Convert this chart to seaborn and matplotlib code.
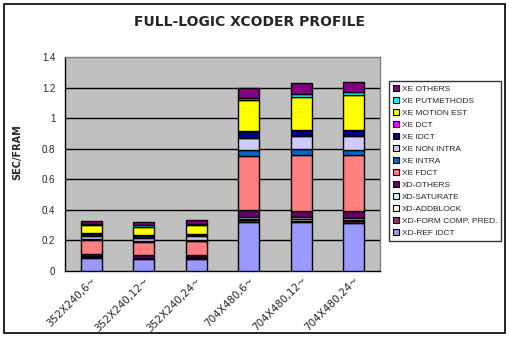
import numpy as np
import pandas as pd
import matplotlib
matplotlib.use("Agg")
import matplotlib.pyplot as plt
import matplotlib.transforms as mtransforms
from matplotlib.patches import Patch, Rectangle
import seaborn as sns

# Encoder configurations (resolution, frame rate)
configs = ["352X240,6~", "352X240,12~", "352X240,24~",
           "704X480,6~", "704X480,12~", "704X480,24~"]

# Per-stage time in seconds per frame, listed bottom of stack first
xd_ref_idct   = [0.085, 0.076, 0.077, 0.318, 0.318, 0.312]
xd_form_comp  = [0.006, 0.006, 0.006, 0.013, 0.012, 0.012]
xd_addblock   = [0.003, 0.003, 0.003, 0.012, 0.011, 0.011]
xd_saturate   = [0.003, 0.003, 0.003, 0.012, 0.010, 0.011]
xd_others     = [0.013, 0.014, 0.013, 0.043, 0.043, 0.048]
xe_fdct       = [0.091, 0.087, 0.093, 0.355, 0.366, 0.366]
xe_intra      = [0.006, 0.006, 0.007, 0.041, 0.039, 0.032]
xe_non_intra  = [0.024, 0.024, 0.025, 0.076, 0.082, 0.089]
xe_idct       = [0.015, 0.016, 0.014, 0.046, 0.042, 0.040]
xe_dct        = [0.001, 0.001, 0.001, 0.002, 0.002, 0.002]
xe_motion_est = [0.052, 0.054, 0.056, 0.200, 0.215, 0.226]
xe_putmethods = [0.008, 0.010, 0.012, 0.017, 0.016, 0.020]
xe_others     = [0.018, 0.018, 0.021, 0.065, 0.073, 0.065]

series = [
    ("XD-REF IDCT", xd_ref_idct, "#9999FF"),
    ("XD-FORM COMP. PRED.", xd_form_comp, "#993366"),
    ("XD-ADDBLOCK", xd_addblock, "#FFFFCC"),
    ("XD-SATURATE", xd_saturate, "#CCFFFF"),
    ("XD-OTHERS", xd_others, "#660066"),
    ("XE FDCT", xe_fdct, "#FF8080"),
    ("XE INTRA", xe_intra, "#0066CC"),
    ("XE NON INTRA", xe_non_intra, "#CCCCFF"),
    ("XE IDCT", xe_idct, "#000080"),
    ("XE DCT", xe_dct, "#FF00FF"),
    ("XE MOTION EST", xe_motion_est, "#FFFF00"),
    ("XE PUTMETHODS", xe_putmethods, "#00FFFF"),
    ("XE OTHERS", xe_others, "#800080"),
]

y_ticks = [0, 0.2, 0.4, 0.6, 0.8, 1.0, 1.2, 1.4]
y_tick_labels = ["0", "0.2", "0.4", "0.6", "0.8", "1", "1.2", "1.4"]

sns.set_style("white")
plt.rcParams["font.family"] = ["Liberation Sans", "DejaVu Sans"]

W, H = 509, 337
fig = plt.figure(figsize=(W / 100, H / 100), dpi=100)
ax = fig.add_axes([65 / W, 1 - 271 / H, 315 / W, 214 / H])
ax.set_facecolor("#C0C0C0")

bottom = np.zeros(len(configs))
for name, vals, col in series:
    df = pd.DataFrame({"config": configs, "value": vals})
    sns.barplot(data=df, x="config", y="value", order=configs, color=col,
                width=0.4, errorbar=None, bottom=bottom, edgecolor="black",
                linewidth=1.0, saturation=1, ax=ax, zorder=3)
    bottom = bottom + np.array(vals)

ax.set_ylim(0, 1.4)
ax.set_xlim(-0.5, len(configs) - 0.5)
ax.set_yticks(y_ticks)
ax.set_yticklabels(y_tick_labels, fontsize=7)
ax.set_xlabel("")
ax.set_ylabel("")
for y in y_ticks[1:-1]:
    ax.axhline(y, color="black", lw=1.0, zorder=1)

ax.set_xticks(range(len(configs)))
ax.set_xticklabels(configs, fontsize=7.5, rotation=45, ha="right",
                   rotation_mode="anchor", family="DejaVu Sans")
shift = mtransforms.ScaledTranslation(6 / 100, 0, fig.dpi_scale_trans)
for lbl in ax.get_xticklabels():
    lbl.set_transform(lbl.get_transform() + shift)
ax.tick_params(axis="x", which="major", length=0, pad=3)
ax.set_xticks(np.arange(-0.5, len(configs), 1.0), minor=True)
ax.tick_params(axis="x", which="minor", length=4, width=1, color="black",
               direction="out")
ax.tick_params(axis="y", length=4, width=1, color="black", direction="out",
               pad=3)

for side in ("left", "bottom"):
    ax.spines[side].set_color("black")
    ax.spines[side].set_linewidth(1.0)
for side in ("top", "right"):
    ax.spines[side].set_visible(True)
    ax.spines[side].set_color("#808080")
    ax.spines[side].set_linewidth(1.0)

fig.text(249 / W, 1 - 22 / H, "FULL-LOGIC XCODER PROFILE", ha="center",
         va="center", fontsize=10, fontweight="bold", family="DejaVu Sans")
fig.text(17 / W, 1 - 152 / H, "SEC/FRAM", rotation=90, ha="center",
         va="center", fontsize=7, fontweight="bold", family="DejaVu Sans")

handles = [Patch(facecolor=col, edgecolor="black", linewidth=0.8, label=name)
           for name, vals, col in reversed(series)]
leg = fig.legend(handles=handles, loc="upper left",
                 bbox_to_anchor=(389 / W, 1 - 81 / H), fontsize=6,
                 frameon=True, fancybox=False, edgecolor="black",
                 labelspacing=0.5, handlelength=0.7, handleheight=0.7,
                 handletextpad=0.3, borderpad=0.5, borderaxespad=0)
leg.get_frame().set_linewidth(1.0)

fig.patches.append(Rectangle((4 / W, 4 / H), 501 / W, 329 / H,
                             transform=fig.transFigure, fill=False,
                             edgecolor="black", linewidth=1.2))

fig.savefig("out.png", dpi=100, facecolor="white")
